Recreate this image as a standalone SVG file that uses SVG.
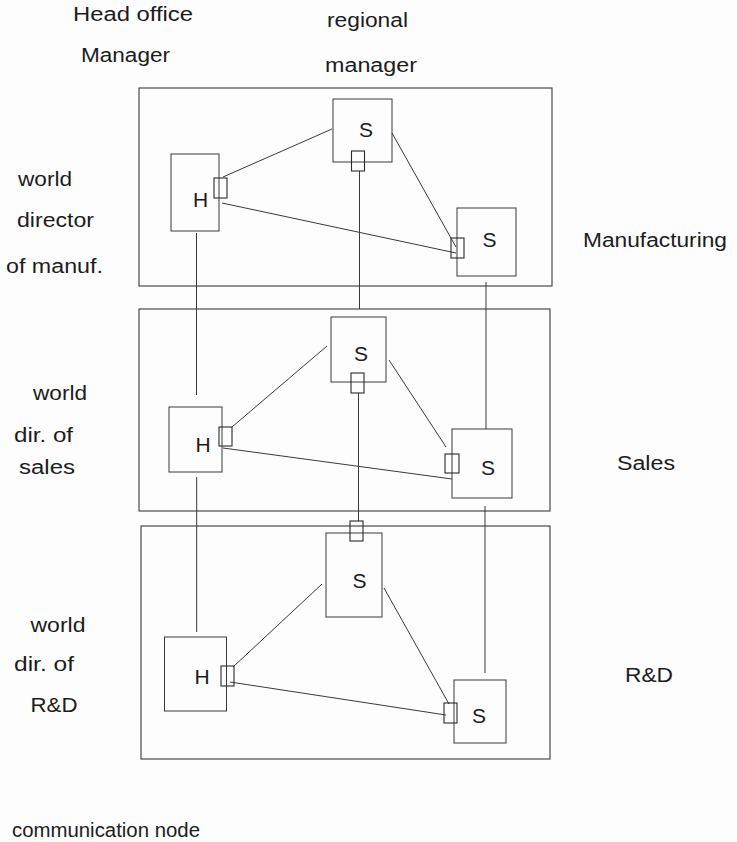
<svg xmlns="http://www.w3.org/2000/svg" width="737" height="842" viewBox="0 0 737 842">
<style>
.bg{fill:#fdfdfd}
.panel{fill:none;stroke:#3a3a3a;stroke-width:1.1}
.box{fill:none;stroke:#3a3a3a;stroke-width:1}
.port{fill:none;stroke:#2a2a2a;stroke-width:1.1}
.ln{stroke:#3a3a3a;stroke-width:1;fill:none}
.t{font-family:"Liberation Sans",Arial,sans-serif;font-size:20px;fill:#1c1c1c}
.n{font-family:"Liberation Sans",Arial,sans-serif;font-size:21px;fill:#1c1c1c;text-anchor:middle}
</style>
<rect class="bg" x="0" y="0" width="737" height="842"/>

<g id="labels">
<text class="t" x="73" y="21" textLength="120" lengthAdjust="spacingAndGlyphs">Head office</text>
<text class="t" x="81" y="62" textLength="89" lengthAdjust="spacingAndGlyphs">Manager</text>
<text class="t" x="327" y="27" textLength="81" lengthAdjust="spacingAndGlyphs">regional</text>
<text class="t" x="325" y="72" textLength="92" lengthAdjust="spacingAndGlyphs">manager</text>
<text class="t" x="18" y="186" textLength="54" lengthAdjust="spacingAndGlyphs">world</text>
<text class="t" x="17" y="227" textLength="77" lengthAdjust="spacingAndGlyphs">director</text>
<text class="t" x="6" y="273" textLength="97" lengthAdjust="spacingAndGlyphs">of manuf.</text>
<text class="t" x="583" y="247" textLength="144" lengthAdjust="spacingAndGlyphs">Manufacturing</text>
<text class="t" x="33" y="400" textLength="54" lengthAdjust="spacingAndGlyphs">world</text>
<text class="t" x="14" y="442" textLength="59" lengthAdjust="spacingAndGlyphs">dir. of</text>
<text class="t" x="19" y="474" textLength="56" lengthAdjust="spacingAndGlyphs">sales</text>
<text class="t" x="617" y="470" textLength="58" lengthAdjust="spacingAndGlyphs">Sales</text>
<text class="t" x="30.5" y="632" textLength="55" lengthAdjust="spacingAndGlyphs">world</text>
<text class="t" x="14" y="671" textLength="60" lengthAdjust="spacingAndGlyphs">dir. of</text>
<text class="t" x="30.5" y="712" textLength="47" lengthAdjust="spacingAndGlyphs">R&amp;D</text>
<text class="t" x="625" y="682" textLength="48" lengthAdjust="spacingAndGlyphs">R&amp;D</text>
<text class="t" x="12" y="837" textLength="188" lengthAdjust="spacingAndGlyphs">communication node</text>
</g>

<g id="panel-manufacturing"><rect class="panel" x="139" y="88" width="413" height="198"/></g>
<g id="panel-sales"><rect class="panel" x="139" y="309" width="411" height="202"/></g>
<g id="panel-rd"><rect class="panel" x="141" y="526" width="409" height="233"/></g>

<g id="connectors">
<line class="ln" x1="223" y1="177" x2="332" y2="129"/>
<line class="ln" x1="222" y1="203" x2="456" y2="253"/>
<line class="ln" x1="392" y1="133" x2="456" y2="247"/>
<line class="ln" x1="196.5" y1="233" x2="196.5" y2="395"/>
<line class="ln" x1="359.5" y1="171" x2="359.5" y2="309"/>
<line class="ln" x1="486" y1="282" x2="486" y2="429"/>

<line class="ln" x1="232" y1="427" x2="327" y2="346"/>
<line class="ln" x1="223" y1="448" x2="452" y2="479"/>
<line class="ln" x1="389" y1="360" x2="446" y2="447"/>
<line class="ln" x1="196.7" y1="477" x2="196.7" y2="632"/>
<line class="ln" x1="358.5" y1="393" x2="358.5" y2="521"/>
<line class="ln" x1="485" y1="506" x2="485" y2="673"/>

<line class="ln" x1="233" y1="667" x2="322" y2="584"/>
<line class="ln" x1="230" y1="682" x2="446" y2="715"/>
<line class="ln" x1="384" y1="588" x2="449" y2="704"/>
</g>

<g id="H-manufacturing">
<rect class="box" x="171" y="154" width="48" height="77"/>
<text class="n" x="200.5" y="207">H</text>
<rect class="port" x="214" y="178" width="13" height="20"/>
</g>
<g id="S-manufacturing-regional">
<rect class="box" x="333" y="99" width="59" height="63"/>
<text class="n" x="366" y="137">S</text>
<rect class="port" x="351.5" y="151" width="13" height="20"/>
</g>
<g id="S-manufacturing-local">
<rect class="box" x="457" y="208" width="59" height="68"/>
<text class="n" x="489.5" y="247">S</text>
<rect class="port" x="451" y="238" width="13" height="20"/>
</g>

<g id="H-sales">
<rect class="box" x="169" y="407" width="53" height="65"/>
<text class="n" x="203" y="452">H</text>
<rect class="port" x="219" y="427" width="13" height="19"/>
</g>
<g id="S-sales-regional">
<rect class="box" x="331" y="317" width="55" height="65"/>
<text class="n" x="361" y="361">S</text>
<rect class="port" x="351" y="373" width="13" height="20"/>
</g>
<g id="S-sales-local">
<rect class="box" x="452" y="429" width="60" height="69"/>
<text class="n" x="488" y="475">S</text>
<rect class="port" x="445" y="454" width="14" height="19"/>
</g>

<g id="H-rd">
<rect class="box" x="164.5" y="637" width="62" height="74"/>
<text class="n" x="202" y="684">H</text>
<rect class="port" x="221" y="666" width="13" height="20"/>
</g>
<g id="S-rd-regional">
<rect class="box" x="326" y="533" width="56" height="84"/>
<text class="n" x="359.5" y="588">S</text>
<rect class="port" x="350" y="521" width="13" height="20"/>
</g>
<g id="S-rd-local">
<rect class="box" x="454" y="680" width="52" height="63"/>
<text class="n" x="479" y="723">S</text>
<rect class="port" x="444" y="703" width="13" height="20"/>
</g>
</svg>
